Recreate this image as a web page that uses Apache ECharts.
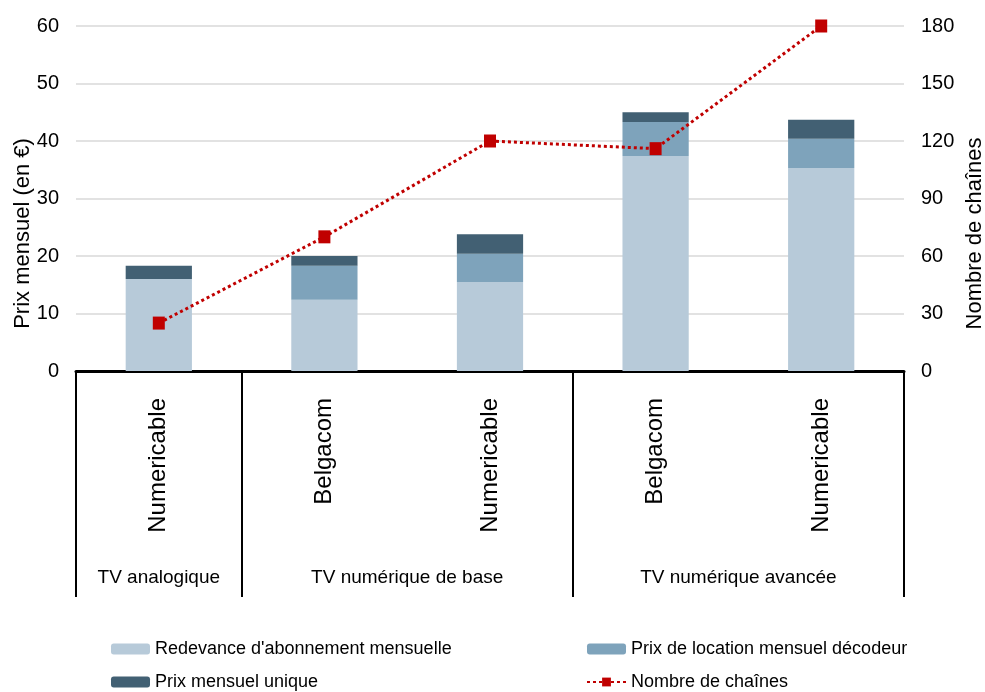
<!DOCTYPE html>
<html>
<head>
<meta charset="utf-8">
<script src="https://cdn.jsdelivr.net/npm/echarts@6/dist/echarts.min.js"></script>
<style>
html, body { margin: 0; padding: 0; background: #fff; }
#chart { width: 985px; height: 692px; }
</style>
</head>
<body>
<div id="chart"></div>
<script>
// opérateurs (niveau 1) et offres (niveau 2)
var operateurs = ['Numericable', 'Belgacom', 'Numericable', 'Belgacom', 'Numericable'];
var offres = ['', 'TV analogique', '', '', 'TV numérique de base', '', '', '', 'TV numérique avancée', '', ''];
var bornesOffres = [0, 2, 6, 10];

var redevance = [16.0, 12.4, 15.5, 37.4, 35.3];
var decodeur = [0, 5.9, 4.9, 5.9, 5.1];
var prixUnique = [2.3, 1.7, 3.4, 1.7, 3.3];
var nbChaines = [25, 70, 120, 116, 180];

var chart = echarts.init(document.getElementById('chart'));

var font = 'Liberation Sans, Arial, sans-serif';

option = {
    textStyle: { fontFamily: font },
    animation: false,
    grid: {
        left: 76,
        right: 81,
        top: 26,
        bottom: 321,
        outerBoundsMode: 'none'
    },
    legend: [
        {
            orient: 'vertical',
            left: 111,
            top: 640,
            height: 60,
            padding: 0,
            itemWidth: 39,
            itemHeight: 11,
            itemGap: 15,
            textStyle: { fontSize: 18, color: '#000', fontFamily: font },
            data: ["Redevance d'abonnement mensuelle", 'Prix mensuel unique']
        },
        {
            orient: 'vertical',
            left: 586,
            top: 640,
            height: 60,
            padding: 0,
            itemWidth: 39,
            itemHeight: 11,
            itemGap: 15,
            textStyle: { fontSize: 18, color: '#000', fontFamily: font },
            data: ['Prix de location mensuel décodeur', 'Nombre de chaînes']
        }
    ],
    xAxis: [
        {
            type: 'category',
            data: operateurs,
            axisLine: { lineStyle: { color: '#000', width: 3 } },
            axisTick: { show: false },
            axisLabel: {
                rotate: 90,
                margin: 27,
                fontSize: 24,
                color: '#000',
                fontFamily: font
            }
        },
        {
            type: 'category',
            data: offres,
            boundaryGap: false,
            position: 'bottom',
            axisLine: { show: false },
            axisTick: {
                show: true,
                length: 226,
                interval: function (i) { return bornesOffres.indexOf(i) >= 0; },
                lineStyle: { color: '#000', width: 2 }
            },
            axisLabel: {
                margin: 197,
                fontSize: 19,
                color: '#000',
                fontFamily: font,
                interval: function (i, v) { return v !== ''; }
            }
        }
    ],
    yAxis: [
        {
            type: 'value',
            min: 0,
            max: 60,
            interval: 10,
            name: 'Prix mensuel (en €)',
            nameLocation: 'middle',
            nameGap: 42,
            nameMoveOverlap: false,
            nameTextStyle: { fontSize: 22, color: '#000', padding: [0, 70, 0, 0] },
            axisLine: { show: false },
            axisTick: { show: false },
            axisLabel: { fontSize: 20, color: '#000', margin: 17 },
            splitLine: { lineStyle: { color: '#d9d9d9', width: 1.5 } }
        },
        {
            type: 'value',
            min: 0,
            max: 180,
            interval: 30,
            name: 'Nombre de chaînes',
            nameLocation: 'middle',
            nameGap: 60,
            nameMoveOverlap: false,
            nameTextStyle: { fontSize: 22, color: '#000', padding: [0, 70, 0, 0] },
            axisLine: { show: false },
            axisTick: { show: false },
            axisLabel: { fontSize: 20, color: '#000', margin: 17 },
            splitLine: { show: false }
        }
    ],
    series: [
        {
            name: "Redevance d'abonnement mensuelle",
            type: 'bar',
            stack: 'prix',
            barWidth: '40%',
            itemStyle: { color: '#b7cad9' },
            data: redevance
        },
        {
            name: 'Prix de location mensuel décodeur',
            type: 'bar',
            stack: 'prix',
            itemStyle: { color: '#7ea3bb' },
            data: decodeur
        },
        {
            name: 'Prix mensuel unique',
            type: 'bar',
            stack: 'prix',
            itemStyle: { color: '#426073' },
            data: prixUnique
        },
        {
            name: 'Nombre de chaînes',
            type: 'line',
            yAxisIndex: 1,
            symbol: 'rect',
            symbolSize: [12, 13],
            itemStyle: { color: '#c00000' },
            lineStyle: { color: '#c00000', width: 3, type: [3, 3] },
            z: 5,
            data: nbChaines
        }
    ]
};

chart.setOption(option);
</script>
</body>
</html>
